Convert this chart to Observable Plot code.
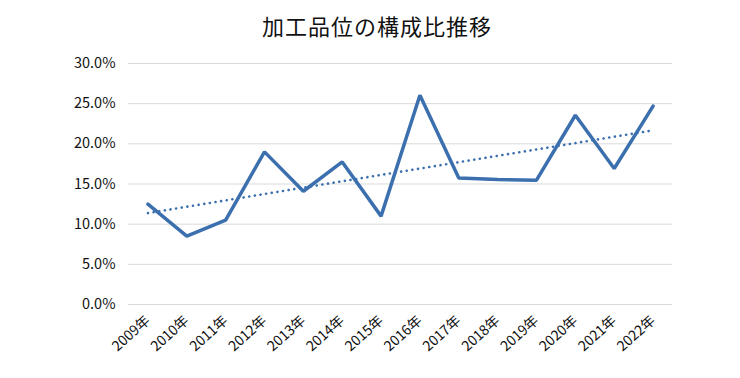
<!DOCTYPE html>
<html>
<head>
<meta charset="utf-8">
<script src="https://cdn.jsdelivr.net/npm/d3@7"></script>
<script src="https://cdn.jsdelivr.net/npm/@observablehq/plot@0.6"></script>
<style>
  html, body { margin: 0; padding: 0; background: #fff; }
  #wrap { width: 740px; height: 378px; position: relative; font-family: 'Noto Sans CJK JP', sans-serif; }
  #title { height: 44px; line-height: 50px; text-align: center; font-size: 22px; letter-spacing: 1px; color: #111; padding-left: 14px; box-sizing: border-box; }
</style>
</head>
<body>
<div id="wrap">
  <div id="title">加工品位の構成比推移</div>
  <div id="chart"></div>
</div>
<script>
const years = [2009, 2010, 2011, 2012, 2013, 2014, 2015, 2016, 2017, 2018, 2019, 2020, 2021, 2022];
const ratios = [12.5, 8.5, 10.5, 19.0, 14.1, 17.75, 11.0, 26.05, 15.76, 15.56, 15.47, 23.56, 16.93, 24.7];
const yTicks = [0, 5, 10, 15, 20, 25, 30];

const data = years.map((year, i) => ({year, ratio: ratios[i]}));
const lineColor = "#3b6fae";

const chart = Plot.plot({
  width: 740,
  height: 334,
  marginTop: 19,
  marginBottom: 74,
  marginLeft: 128,
  marginRight: 68,
  style: {fontFamily: "'Noto Sans CJK JP', sans-serif", fontSize: "14px", color: "#111", background: "#fff"},
  x: {type: "linear", domain: [2008.5, 2022.5], label: null},
  y: {domain: [0, 30], label: null},
  marks: [
    Plot.gridY(yTicks, {stroke: "#d9d9d9", strokeOpacity: 1, strokeWidth: 1}),
    Plot.axisY(yTicks, {tickSize: 0, tickPadding: 13, tickFormat: d => d.toFixed(1) + "%", fontSize: 14.5, label: null}),
    Plot.axisX(years, {tickSize: 0, tickPadding: 14, tickRotate: -42, tickFormat: d => d + "年", fontSize: 14, label: null}),
    Plot.linearRegressionY(data, {x: "year", y: "ratio", ci: 0, stroke: lineColor, strokeWidth: 2.6, strokeDasharray: "0.1 5.6", strokeLinecap: "round"}),
    Plot.line(data, {x: "year", y: "ratio", stroke: lineColor, strokeWidth: 3.5, strokeLinejoin: "miter"})
  ]
});
document.getElementById("chart").appendChild(chart);
</script>
</body>
</html>
